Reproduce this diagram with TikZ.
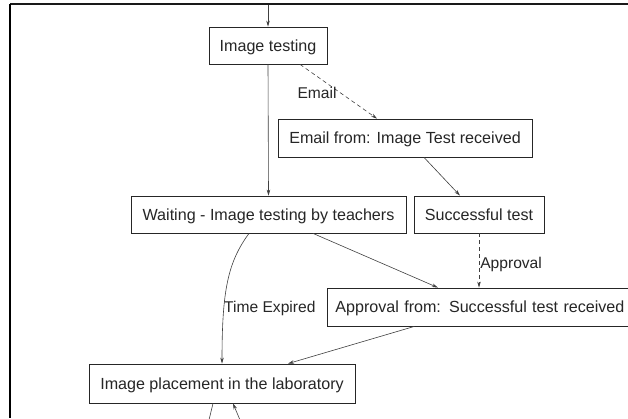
\documentclass[tikz,border=0pt]{standalone}
\usepackage{fontspec}
\setmainfont{Liberation Sans}
\usetikzlibrary{arrows.meta,calc}
\begin{document}
\begin{tikzpicture}[x=1pt,y=-1pt,
  every node/.style={font=\fontsize{16.1}{19}\selectfont, text=black!85},
  state/.style={draw=black!85, line width=0.8pt, inner sep=0pt, fill=white, text height=11.6pt, text depth=0pt},
  flow/.style={draw=black!75, line width=0.6pt, -{Stealth[length=6pt,width=3.5pt]}},
  msg/.style={flow, dash pattern=on 4pt off 3pt},
  lbl/.style={inner sep=0pt, font=\fontsize{15.6}{18}\selectfont}]
  \useasboundingbox (0,0) rectangle (628,418);
  \clip (0,0) rectangle (628,418);
  \fill[white] (0,0) rectangle (628,418);

  % window frame
  \draw[black!90, line width=2pt] (10,4) -- (628,4);
  \draw[black, line width=2.5pt] (10,4) -- (10,418);
  \coordinate (topin) at (268,5);

  % states
  \node[state, minimum width=118pt, minimum height=37pt] (it) at (268,45.5) {Image testing};
  \node[state, minimum width=254pt, minimum height=38pt] (em) at (405,138) {Email from: Image Test received};
  \node[state, minimum width=275pt, minimum height=37pt] (wt) at (268.5,214.5) {Waiting - Image testing by teachers};
  \node[state, minimum width=130pt, minimum height=37pt] (st) at (479,214.5) {Successful test};
  \node[state, minimum height=38pt, text width=297pt, align=left, inner xsep=8pt, anchor=west] (ap) at (327,307) {Approval from: Successful test received};
  \node[state, minimum width=266pt, minimum height=39pt] (ip) at (222,383.5) {Image placement in the laboratory};
  \coordinate (outa) at (209,420);
  \coordinate (inb) at (240,420);

  % transitions
  \draw[flow] (topin) -- (it.north);
  \draw[msg] ([xshift=32pt]it.south) -- node[lbl, pos=0.53, left=4pt] {Email} ([xshift=-28pt]em.north);
  \draw[flow] (it.south) -- (wt.north);
  \draw[flow] ([xshift=19pt]em.south) -- ([xshift=-19pt]st.north);
  \draw[msg] (st.south) -- node[lbl, pos=0.57, right=1pt] {Approval} (st.south |- ap.north);
  \draw[flow] ([xshift=44.5pt]wt.south) -- ([xshift=-46pt]ap.north);
  \draw[flow] ([xshift=-19.5pt]wt.south) .. controls (228,262) and (222,290) .. node[lbl, pos=0.7, right=0pt] {Time Expired} (ip.north);
  \draw[flow] ([xshift=-69.5pt]ap.south) -- ([xshift=66pt]ip.north);
  \draw[draw=black!75, line width=0.6pt] ([xshift=-9pt]ip.south) -- (outa);
  \draw[flow] (inb) -- ([xshift=11pt]ip.south);
\end{tikzpicture}
\end{document}
